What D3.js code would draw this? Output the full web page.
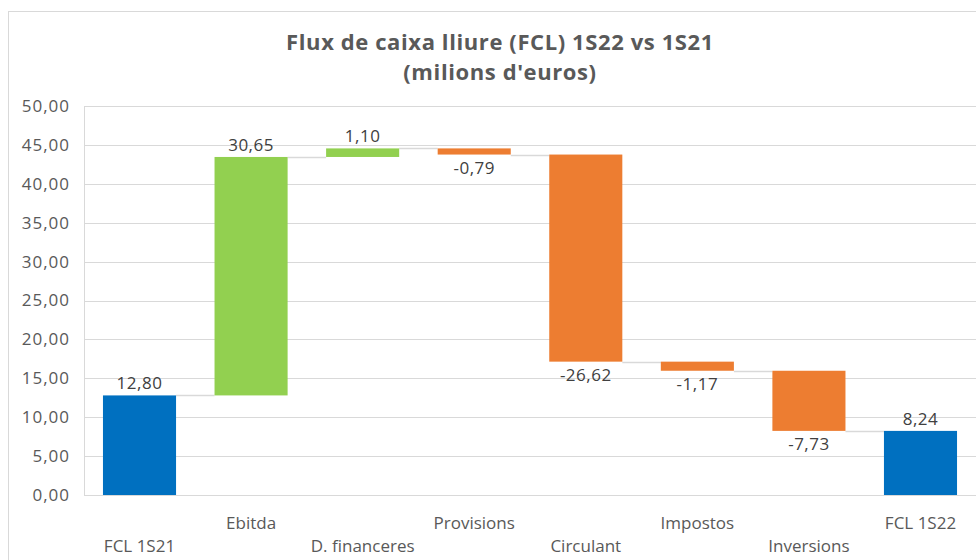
<!DOCTYPE html>
<html>
<head>
<meta charset="utf-8">
<script src="https://cdn.jsdelivr.net/npm/d3@7"></script>
<style>
  body { margin: 0; background: #fff; }
  svg { display: block; font-family: "Open Sans", Lato, sans-serif; }
</style>
</head>
<body>
<div id="chart"></div>
<script>
// data
var categories = ["FCL 1S21", "Ebitda", "D. financeres", "Provisions", "Circulant", "Impostos", "Inversions", "FCL 1S22"];
var values = [12.80, 30.65, 1.10, -0.79, -26.62, -1.17, -7.73, 8.24];
var kinds = ["total", "delta", "delta", "delta", "delta", "delta", "delta", "total"];
var yTicks = [0, 5, 10, 15, 20, 25, 30, 35, 40, 45, 50];

var W = 976, H = 560;
var margin = {top: 106, right: 0, bottom: 65, left: 84};
var colors = {total: "#0070C0", up: "#92D050", down: "#ED7D31"};

// running totals
var running = 0;
var steps = categories.map(function(c, i) {
    var v = values[i], start, end;
    if (kinds[i] === "total") { start = 0; end = v; running = v; }
    else { start = running; end = running + v; running = end; }
    return {name: c, value: v, start: start, end: end, kind: kinds[i], idx: i};
});

var svg = d3.select("#chart").append("svg")
    .attr("width", W)
    .attr("height", H);

// chart border
svg.append("rect")
    .attr("x", 8.5).attr("y", 11.5)
    .attr("width", 990).attr("height", 560)
    .attr("fill", "#fff")
    .attr("stroke", "#d9d9d9");

var x = d3.scaleBand()
    .domain(categories)
    .range([margin.left, W - margin.right])
    .paddingInner(0.345)
    .paddingOuter(0.17);

var y = d3.scaleLinear()
    .domain([0, 50])
    .range([H - margin.bottom, margin.top]);

// title
var title = svg.append("text")
    .attr("text-anchor", "middle")
    .attr("fill", "#595959")
    .style("font-size", "22px")
    .style("font-weight", "bold")
    .style("letter-spacing", "0.6px");
title.append("tspan").attr("x", 500).attr("y", 50).text("Flux de caixa lliure (FCL) 1S22 vs 1S21");
title.append("tspan").attr("x", 500).attr("y", 80).text("(milions d'euros)");

// gridlines
svg.append("g")
    .selectAll("line")
    .data(yTicks)
    .enter().append("line")
        .attr("x1", margin.left).attr("x2", W)
        .attr("y1", function(d) { return Math.round(y(d)) + 0.5; })
        .attr("y2", function(d) { return Math.round(y(d)) + 0.5; })
        .attr("stroke", "#d9d9d9")
        .attr("stroke-width", 1);

// left axis line
svg.append("line")
    .attr("x1", margin.left + 0.5).attr("x2", margin.left + 0.5)
    .attr("y1", y(50)).attr("y2", y(0))
    .attr("stroke", "#d9d9d9");

// comma decimals, plain hyphen for negatives
var fmt = function(d) { return d.toFixed(2).replace(".", ","); };
var yAxis = d3.axisLeft(y).tickValues(yTicks).tickFormat(fmt).tickSize(0).tickPadding(14);
var gy = svg.append("g")
    .attr("transform", "translate(" + margin.left + ",0)")
    .call(yAxis);
gy.select(".domain").remove();
gy.selectAll("text")
    .attr("fill", "#595959")
    .style("font-size", "17px")
    .style("letter-spacing", "1px")
    .style("font-family", "'Open Sans', Lato, sans-serif");

// connectors
svg.append("g")
    .selectAll("line")
    .data(steps.slice(0, -1))
    .enter().append("line")
        .attr("x1", function(d) { return x(d.name) + x.bandwidth(); })
        .attr("x2", function(d) { return x(categories[d.idx + 1]); })
        .attr("y1", function(d) { return Math.round(y(d.end)) + 0.5; })
        .attr("y2", function(d) { return Math.round(y(d.end)) + 0.5; })
        .attr("stroke", "#d9d9d9")
        .attr("stroke-width", 1.5);

// bars
svg.append("g")
    .selectAll("rect")
    .data(steps)
    .enter().append("rect")
        .attr("x", function(d) { return x(d.name); })
        .attr("width", x.bandwidth())
        .attr("y", function(d) { return y(Math.max(d.start, d.end)); })
        .attr("height", function(d) { return Math.abs(y(d.start) - y(d.end)); })
        .attr("fill", function(d) {
            if (d.kind === "total") return colors.total;
            return d.value >= 0 ? colors.up : colors.down;
        });

// data labels
svg.append("g")
    .selectAll("text")
    .data(steps)
    .enter().append("text")
        .attr("x", function(d) { return x(d.name) + x.bandwidth() / 2; })
        .attr("y", function(d) {
            if (d.value >= 0) return y(Math.max(d.start, d.end)) - 6;
            return y(Math.min(d.start, d.end)) + 19;
        })
        .attr("text-anchor", "middle")
        .attr("fill", "#404040")
        .style("font-size", "17px")
        .style("letter-spacing", "0.5px")
        .text(function(d) { return fmt(d.value); });

// category labels, staggered on two rows
svg.append("g")
    .selectAll("text")
    .data(steps)
    .enter().append("text")
        .attr("x", function(d) { return x(d.name) + x.bandwidth() / 2; })
        .attr("y", function(d) { return d.idx % 2 === 0 ? 552 : 529; })
        .attr("text-anchor", "middle")
        .attr("fill", "#595959")
        .style("font-size", "17px")
        .text(function(d) { return d.name; });
</script>
</body>
</html>
